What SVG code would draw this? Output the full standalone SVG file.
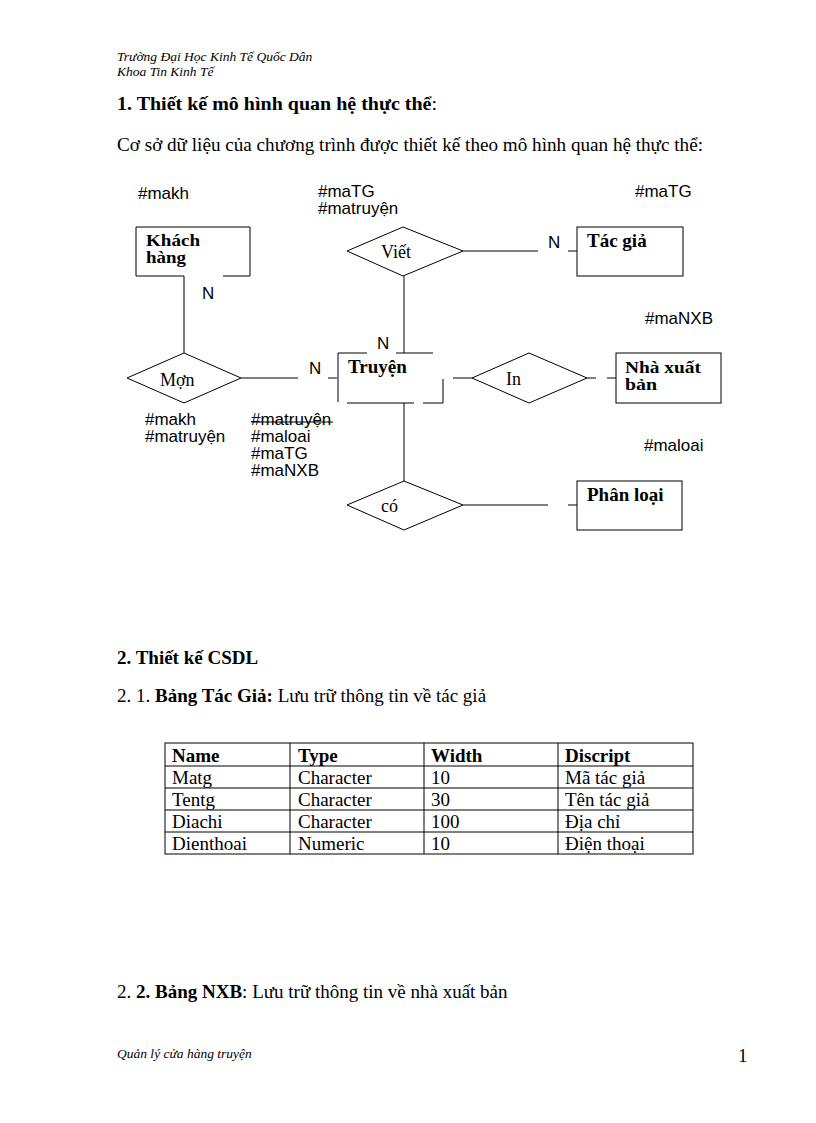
<svg xmlns="http://www.w3.org/2000/svg" width="816" height="1123" viewBox="0 0 816 1123">
<style>
.hdr{font-family:"Liberation Serif",serif;font-style:italic;font-size:13.5px;fill:#000}
.body{font-family:"Liberation Serif",serif;font-size:19px;fill:#000}
.b{font-weight:bold}
.ent{font-family:"Liberation Serif",serif;font-weight:bold;font-size:19px;fill:#000}
.ent2{font-family:"Liberation Serif",serif;font-weight:bold;font-size:17px;fill:#000}
.rel{font-family:"Liberation Serif",serif;font-size:18px;fill:#000}
.key{font-family:"Liberation Sans",Arial,sans-serif;font-size:17px;fill:#000}
.card{font-family:"Liberation Sans",Arial,sans-serif;font-size:17px;fill:#000}
.ln{stroke:#000;stroke-width:1;fill:none}
.tb{font-family:"Liberation Serif",serif;font-size:19px;fill:#000}
</style>
<rect width="816" height="1123" fill="#fff"/>
<g id="header">
<text class="hdr" x="117" y="61">Trường Đại Học Kinh Tế Quốc Dân</text>
<text class="hdr" x="117" y="76">Khoa Tin Kinh Tế</text>
</g>
<text class="body" x="117" y="110" textLength="320" lengthAdjust="spacingAndGlyphs"><tspan class="b">1. Thiết kế mô hình quan hệ thực thể</tspan>:</text>
<text class="body" x="117" y="151" textLength="586" lengthAdjust="spacingAndGlyphs">Cơ sở dữ liệu  của chương trình được thiết kế theo mô hình quan hệ thực thể:</text>

<g id="connectors" class="ln">
<line x1="184" y1="276" x2="184" y2="353"/>
<line x1="241" y1="378" x2="298" y2="378"/>
<line x1="328" y1="378" x2="337" y2="378"/>
<line x1="404" y1="276" x2="404" y2="353"/>
<line x1="463" y1="251" x2="538" y2="251"/>
<line x1="568" y1="251" x2="577" y2="251"/>
<line x1="453" y1="378" x2="472" y2="378"/>
<line x1="587" y1="378" x2="596" y2="378"/>
<line x1="607" y1="378" x2="616" y2="378"/>
<line x1="404" y1="403" x2="404" y2="481"/>
<line x1="463" y1="505" x2="548" y2="505"/>
<line x1="568" y1="505" x2="577" y2="505"/>
<line x1="251" y1="422" x2="333" y2="422"/>
</g>

<g id="khachhang">
<path class="ln" d="M184,276 H136 V227 H250 V276 H223"/>
<text class="ent2" x="146" y="246" textLength="54" lengthAdjust="spacingAndGlyphs">Khách</text>
<text class="ent2" x="146" y="263" textLength="40" lengthAdjust="spacingAndGlyphs">hàng</text>
</g>
<g id="tacgia">
<rect class="ln" x="577" y="227" width="106" height="49"/>
<text class="ent" x="587" y="247">Tác giả</text>
</g>
<g id="truyen">
<path class="ln" d="M367,353 H338 V402"/>
<line class="ln" x1="396" y1="353" x2="433" y2="353"/>
<path class="ln" d="M347,403 H414"/>
<path class="ln" d="M423,403 H443 V379"/>
<text class="ent" x="348" y="373">Truyện</text>
</g>
<g id="nxb">
<rect class="ln" x="616" y="353" width="105" height="50"/>
<text class="ent2" x="625" y="373" textLength="76" lengthAdjust="spacingAndGlyphs">Nhà xuất</text>
<text class="ent2" x="625" y="390" textLength="32" lengthAdjust="spacingAndGlyphs">bản</text>
</g>
<g id="phanloai">
<rect class="ln" x="577" y="481" width="105" height="49"/>
<text class="ent" x="587" y="501">Phân loại</text>
</g>
<g id="viet">
<polygon class="ln" points="347,251 403,227 463,251 403,276"/>
<text class="rel" x="381" y="258">Viết</text>
</g>
<g id="mon">
<polygon class="ln" points="127,378 184,353 241,378 184,403"/>
<text class="rel" x="160" y="386">Mợn</text>
</g>
<g id="in">
<polygon class="ln" points="472,378 529,353 587,378 529,403"/>
<text class="rel" x="506" y="385">In</text>
</g>
<g id="co">
<polygon class="ln" points="347,505 404,481 463,505 404,530"/>
<text class="rel" x="381" y="512">có</text>
</g>

<g id="cardinalities">
<text class="card" x="202" y="299">N</text>
<text class="card" x="309" y="374">N</text>
<text class="card" x="377" y="349">N</text>
<text class="card" x="548" y="248">N</text>
</g>

<g id="keys">
<text class="key" x="138" y="199">#makh</text>
<text class="key" x="318" y="197">#maTG</text>
<text class="key" x="318" y="214">#matruyện</text>
<text class="key" x="635" y="197">#maTG</text>
<text class="key" x="645" y="324">#maNXB</text>
<text class="key" x="145" y="425">#makh</text>
<text class="key" x="145" y="442">#matruyện</text>
<text class="key" x="251" y="425">#matruyện</text>
<text class="key" x="251" y="442">#maloai</text>
<text class="key" x="251" y="459">#maTG</text>
<text class="key" x="251" y="476">#maNXB</text>
<text class="key" x="644" y="451">#maloai</text>
</g>

<text class="body b" x="117" y="664">2. Thiết kế CSDL</text>
<text class="body" x="117" y="702">2. 1. <tspan class="b">Bảng Tác Giả:</tspan> Lưu trữ thông tin về tác giả</text>

<g id="table">
<rect class="ln" x="165" y="743" width="528" height="111"/>
<line class="ln" x1="165" y1="766" x2="693" y2="766"/>
<line class="ln" x1="165" y1="788" x2="693" y2="788"/>
<line class="ln" x1="165" y1="810" x2="693" y2="810"/>
<line class="ln" x1="165" y1="832" x2="693" y2="832"/>
<line class="ln" x1="290" y1="743" x2="290" y2="854"/>
<line class="ln" x1="424" y1="743" x2="424" y2="854"/>
<line class="ln" x1="558" y1="743" x2="558" y2="854"/>
<g class="tb">
<text class="b" x="172" y="762">Name</text><text class="b" x="298" y="762">Type</text><text class="b" x="431" y="762">Width</text><text class="b" x="565" y="762">Discript</text>
<text x="172" y="784">Matg</text><text x="298" y="784">Character</text><text x="431" y="784">10</text><text x="565" y="784">Mã tác giả</text>
<text x="172" y="806">Tentg</text><text x="298" y="806">Character</text><text x="431" y="806">30</text><text x="565" y="806">Tên tác giả</text>
<text x="172" y="828">Diachi</text><text x="298" y="828">Character</text><text x="431" y="828">100</text><text x="565" y="828">Địa chỉ</text>
<text x="172" y="850">Dienthoai</text><text x="298" y="850">Numeric</text><text x="431" y="850">10</text><text x="565" y="850">Điện thoại</text>
</g>
</g>

<text class="body" x="117" y="998">2. <tspan class="b">2. Bảng NXB</tspan>: Lưu trữ thông tin về nhà xuất bản</text>

<g id="footer">
<text class="hdr" x="117" y="1058">Quản lý cửa hàng truyện</text>
<text class="body" x="738" y="1062">1</text>
</g>
</svg>
